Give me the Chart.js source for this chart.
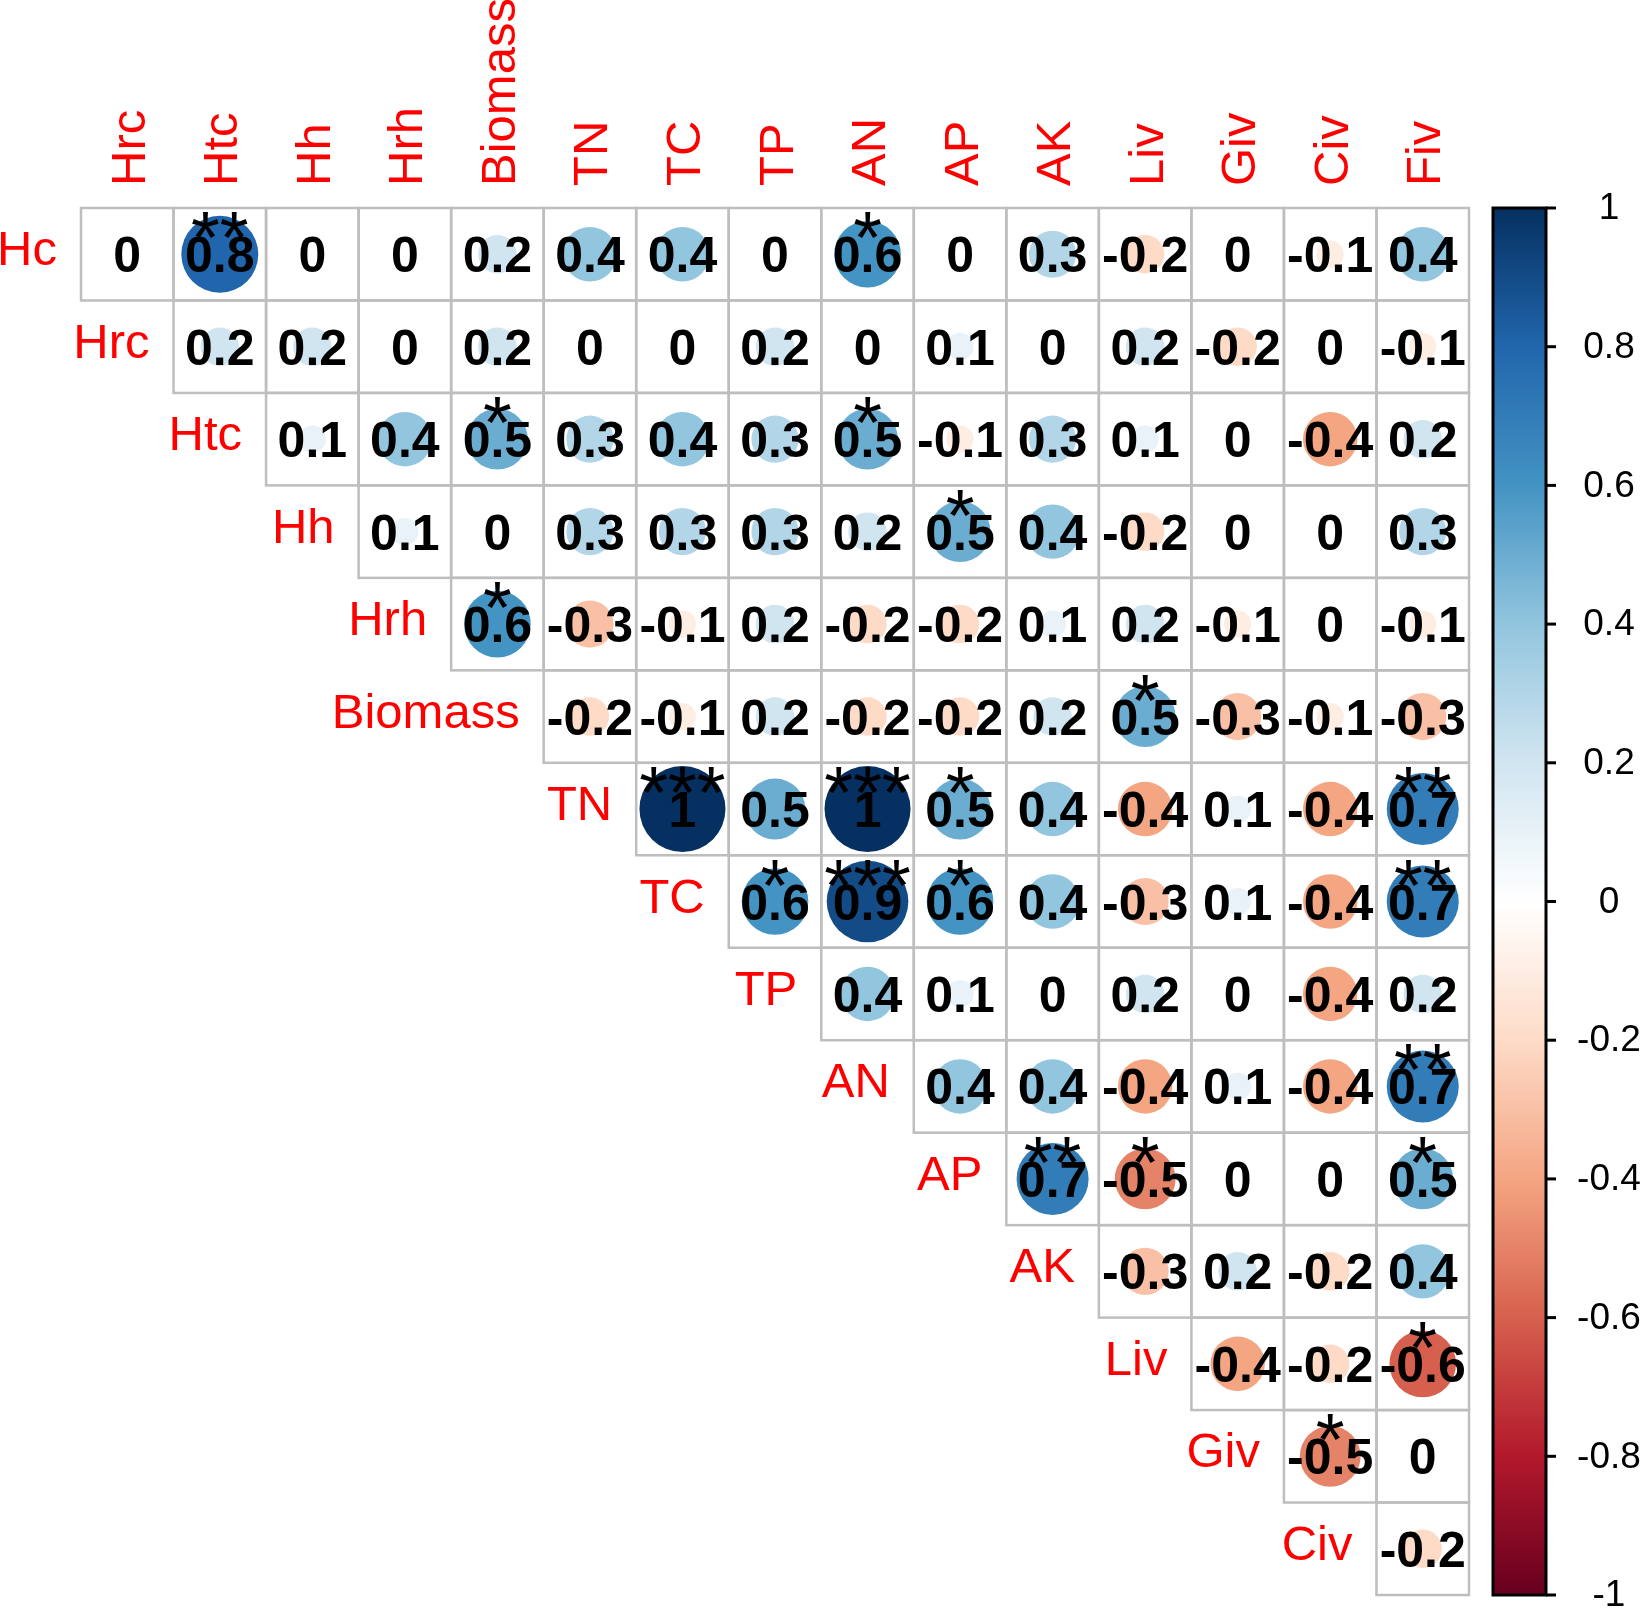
<!DOCTYPE html>
<html>
<head>
<meta charset="utf-8">
<title>Correlation matrix</title>
<script src="https://cdn.jsdelivr.net/npm/chart.js@4.4.1/dist/chart.umd.min.js"></script>
<style>
    body { margin: 0; background: #ffffff; }
    #corr-chart { display: block; }
</style>
</head>
<body>
<canvas id="corr-chart" width="1648" height="1616"></canvas>
<script>
// Row and column variables of the upper triangle
const rowVars = ['Hc', 'Hrc', 'Htc', 'Hh', 'Hrh', 'Biomass', 'TN', 'TC', 'TP', 'AN', 'AP', 'AK', 'Liv', 'Giv', 'Civ'];
const colVars = ['Hrc', 'Htc', 'Hh', 'Hrh', 'Biomass', 'TN', 'TC', 'TP', 'AN', 'AP', 'AK', 'Liv', 'Giv', 'Civ', 'Fiv'];

// Correlation values, row i starts at column i
const corrValues = [
    [0, 0.8, 0, 0, 0.2, 0.4, 0.4, 0, 0.6, 0, 0.3, -0.2, 0, -0.1, 0.4],
    [0.2, 0.2, 0, 0.2, 0, 0, 0.2, 0, 0.1, 0, 0.2, -0.2, 0, -0.1],
    [0.1, 0.4, 0.5, 0.3, 0.4, 0.3, 0.5, -0.1, 0.3, 0.1, 0, -0.4, 0.2],
    [0.1, 0, 0.3, 0.3, 0.3, 0.2, 0.5, 0.4, -0.2, 0, 0, 0.3],
    [0.6, -0.3, -0.1, 0.2, -0.2, -0.2, 0.1, 0.2, -0.1, 0, -0.1],
    [-0.2, -0.1, 0.2, -0.2, -0.2, 0.2, 0.5, -0.3, -0.1, -0.3],
    [1, 0.5, 1, 0.5, 0.4, -0.4, 0.1, -0.4, 0.7],
    [0.6, 0.9, 0.6, 0.4, -0.3, 0.1, -0.4, 0.7],
    [0.4, 0.1, 0, 0.2, 0, -0.4, 0.2],
    [0.4, 0.4, -0.4, 0.1, -0.4, 0.7],
    [0.7, -0.5, 0, 0, 0.5],
    [-0.3, 0.2, -0.2, 0.4],
    [-0.4, -0.2, -0.6],
    [-0.5, 0],
    [-0.2]
];

// Significance marks, same layout as corrValues
const sigMarks = [
    ['', '**', '', '', '', '', '', '', '*', '', '', '', '', '', ''],
    ['', '', '', '', '', '', '', '', '', '', '', '', '', ''],
    ['', '', '*', '', '', '', '*', '', '', '', '', '', ''],
    ['', '', '', '', '', '', '*', '', '', '', '', ''],
    ['*', '', '', '', '', '', '', '', '', '', ''],
    ['', '', '', '', '', '', '*', '', '', ''],
    ['***', '', '***', '*', '', '', '', '', '**'],
    ['*', '***', '*', '', '', '', '', '**'],
    ['', '', '', '', '', '', ''],
    ['', '', '', '', '', '**'],
    ['**', '*', '', '', '*'],
    ['', '', '', ''],
    ['', '', '*'],
    ['*', ''],
    ['']
];

const legendTicks = [1, 0.8, 0.6, 0.4, 0.2, 0, -0.2, -0.4, -0.6, -0.8, -1];

// RdBu palette, from -1 to 1
const palette = ['#67001F', '#B2182B', '#D6604D', '#F4A582', '#FDDBC7', '#FFFFFF',
                 '#D1E5F0', '#92C5DE', '#4393C3', '#2166AC', '#053061'];

function hexToRgb(h) {
    return [parseInt(h.slice(1, 3), 16), parseInt(h.slice(3, 5), 16), parseInt(h.slice(5, 7), 16)];
}

function corrColor(v) {
    const t = (v + 1) / 2 * (palette.length - 1);
    const i = Math.min(palette.length - 2, Math.floor(t));
    const f = t - i;
    const a = hexToRgb(palette[i]);
    const b = hexToRgb(palette[i + 1]);
    const c = a.map((x, k) => Math.round(x + (b[k] - x) * f));
    return `rgb(${c[0]}, ${c[1]}, ${c[2]})`;
}

const points = [];
corrValues.forEach((row, i) => {
    row.forEach((v, k) => {
        points.push({ x: i + k + 0.5, y: i + 0.5, v: v, sig: sigMarks[i][k] });
    });
});

const FONT = '"Liberation Sans", Arial, Helvetica, sans-serif';

function cellSize(chart) {
    const xs = chart.scales.x;
    return xs.getPixelForValue(1) - xs.getPixelForValue(0);
}

const corrPlugin = {
    id: 'corrDecor',
    beforeDatasetsDraw(chart) {
        const ctx = chart.ctx;
        const xs = chart.scales.x, ys = chart.scales.y;
        ctx.save();
        ctx.strokeStyle = '#BEBEBE';
        ctx.lineWidth = 2.5;
        corrValues.forEach((row, i) => {
            row.forEach((v, k) => {
                const x0 = xs.getPixelForValue(i + k), x1 = xs.getPixelForValue(i + k + 1);
                const y0 = ys.getPixelForValue(i), y1 = ys.getPixelForValue(i + 1);
                ctx.strokeRect(x0, y0, x1 - x0, y1 - y0);
            });
        });
        ctx.restore();
    },
    afterDatasetsDraw(chart) {
        const ctx = chart.ctx;
        const xs = chart.scales.x, ys = chart.scales.y;
        const area = chart.chartArea;
        ctx.save();

        // numbers and stars
        points.forEach(p => {
            const cx = xs.getPixelForValue(p.x), cy = ys.getPixelForValue(p.y);
            ctx.fillStyle = '#000000';
            ctx.textAlign = 'center';
            ctx.textBaseline = 'alphabetic';
            ctx.font = 'bold 50px ' + FONT;
            ctx.fillText(String(p.v), cx, cy + 18);
            if (p.sig) {
                ctx.font = '74px ' + FONT;
                ctx.fillText(p.sig, cx, cy + 9);
            }
        });

        // row labels
        ctx.fillStyle = '#FF0000';
        ctx.font = '49px ' + FONT;
        ctx.textAlign = 'right';
        rowVars.forEach((name, i) => {
            const x = xs.getPixelForValue(i) - 24;
            const y = ys.getPixelForValue(i + 0.5) + 11;
            ctx.fillText(name, x, y);
        });

        // column labels
        ctx.textAlign = 'left';
        colVars.forEach((name, j) => {
            ctx.save();
            ctx.translate(xs.getPixelForValue(j + 0.5), area.top - 22);
            ctx.rotate(-Math.PI / 2);
            ctx.fillText(name, 0, 17.5);
            ctx.restore();
        });

        // colour legend
        const cb = chart.scales.cb;
        const lx0 = area.right + 24, lx1 = area.right + 77;
        const ly0 = cb.getPixelForValue(1), ly1 = cb.getPixelForValue(-1);
        const grad = ctx.createLinearGradient(0, ly0, 0, ly1);
        palette.slice().reverse().forEach((c, k) => grad.addColorStop(k / (palette.length - 1), c));
        ctx.fillStyle = grad;
        ctx.fillRect(lx0, ly0, lx1 - lx0, ly1 - ly0);
        ctx.strokeStyle = '#000000';
        ctx.lineWidth = 3;
        ctx.strokeRect(lx0, ly0, lx1 - lx0, ly1 - ly0);

        ctx.fillStyle = '#000000';
        ctx.font = '37px ' + FONT;
        ctx.textAlign = 'center';
        ctx.textBaseline = 'middle';
        legendTicks.forEach(t => {
            const y = cb.getPixelForValue(t);
            ctx.beginPath();
            ctx.moveTo(lx1, y);
            ctx.lineTo(lx1 + 10, y);
            ctx.stroke();
            ctx.fillText(String(t), lx1 + 63, y + 1);
        });
        ctx.restore();
    }
};

const chartCtx = document.getElementById('corr-chart').getContext('2d');
new Chart(chartCtx, {
    type: 'scatter',
    data: {
        datasets: [{
            data: points,
            showLine: false,
            pointBorderWidth: 0,
            pointHoverBorderWidth: 0,
            pointBackgroundColor: c => corrColor(c.raw ? c.raw.v : 0),
            pointRadius: c => c.raw ? 0.465 * cellSize(c.chart) * Math.sqrt(Math.abs(c.raw.v)) : 0,
            pointHoverRadius: c => c.raw ? 0.465 * cellSize(c.chart) * Math.sqrt(Math.abs(c.raw.v)) : 0
        }]
    },
    options: {
        responsive: false,
        devicePixelRatio: 1,
        animation: false,
        events: [],
        layout: { padding: { left: 81, top: 208, right: 179, bottom: 21 } },
        plugins: { legend: { display: false }, tooltip: { enabled: false } },
        scales: {
            x: { type: 'linear', min: 0, max: 15, display: false },
            y: { type: 'linear', min: 0, max: 15, reverse: true, display: false },
            cb: { type: 'linear', axis: 'y', min: -1, max: 1, display: false }
        }
    },
    plugins: [corrPlugin]
});
</script>
</body>
</html>
